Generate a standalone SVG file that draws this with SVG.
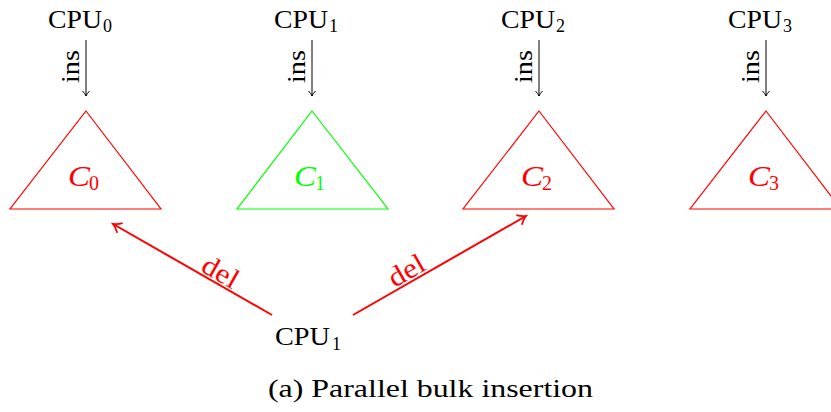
<svg xmlns="http://www.w3.org/2000/svg" width="831" height="412" viewBox="0 0 831 412">
<style>
.t{font-family:"Liberation Serif","Times New Roman",serif;fill:#000}
.cpu{font-size:26px}
.sub{font-size:18px}
.ins{font-size:26px}
.tri{fill:none;stroke-width:1.2}
.red{stroke:#ff0000}
.grn{stroke:#00ff00}
.cl{font-family:"Liberation Serif","Times New Roman",serif;font-style:italic;font-size:30px}
.cs{font-family:"Liberation Serif","Times New Roman",serif;font-size:20px}
.ia{stroke:#000;stroke-width:1;fill:none}
.da{stroke:#ff0000;stroke-width:2;fill:none}
.del{font-family:"Liberation Serif","Times New Roman",serif;font-size:28px;fill:#ff0000}
</style>
<defs>
<marker id="ah" markerWidth="10" markerHeight="10" refX="7" refY="5" orient="auto" markerUnits="userSpaceOnUse">
<path d="M2,1.5 Q4.5,4 7,5 Q4.5,6 2,8.5" fill="none" stroke="#000" stroke-width="1"/>
</marker>
<marker id="rh" markerWidth="16" markerHeight="16" refX="11" refY="8" orient="auto" markerUnits="userSpaceOnUse">
<path d="M3,2.5 Q7,6.5 11,8 Q7,9.5 3,13.5" fill="none" stroke="#ff0000" stroke-width="1.8"/>
</marker>
</defs>
<rect width="831" height="412" fill="#fff"/>

<g id="cpu0">
<text class="t cpu" x="48" y="28" textLength="54" lengthAdjust="spacingAndGlyphs">CPU</text>
<text class="t sub" x="103" y="32">0</text>
</g>
<g id="cpu1">
<text class="t cpu" x="274" y="28" textLength="54" lengthAdjust="spacingAndGlyphs">CPU</text>
<text class="t sub" x="329" y="32">1</text>
</g>
<g id="cpu2">
<text class="t cpu" x="501" y="28" textLength="54" lengthAdjust="spacingAndGlyphs">CPU</text>
<text class="t sub" x="556" y="32">2</text>
</g>
<g id="cpu3">
<text class="t cpu" x="728" y="28" textLength="54" lengthAdjust="spacingAndGlyphs">CPU</text>
<text class="t sub" x="783" y="32">3</text>
</g>

<g id="c0">
<polygon class="tri red" points="86,111 161,209 10,209"/>
<text class="cl" x="68" y="186" fill="#ff0000" textLength="22" lengthAdjust="spacingAndGlyphs">C</text>
<text class="cs" x="89" y="190" fill="#ff0000">0</text>
</g>
<g id="c1">
<polygon class="tri grn" points="312,111 388,209 237,209"/>
<text class="cl" x="294" y="186" fill="#00ff00" textLength="22" lengthAdjust="spacingAndGlyphs">C</text>
<text class="cs" x="315" y="190" fill="#00ff00">1</text>
</g>
<g id="c2">
<polygon class="tri red" points="539,111 614,209 463,209"/>
<text class="cl" x="521" y="186" fill="#ff0000" textLength="22" lengthAdjust="spacingAndGlyphs">C</text>
<text class="cs" x="542" y="190" fill="#ff0000">2</text>
</g>
<g id="c3">
<polygon class="tri red" points="766,111 841,209 690,209"/>
<text class="cl" x="748" y="186" fill="#ff0000" textLength="22" lengthAdjust="spacingAndGlyphs">C</text>
<text class="cs" x="769" y="190" fill="#ff0000">3</text>
</g>

<g id="cpu1b">
<text class="t cpu" x="275" y="345" textLength="55" lengthAdjust="spacingAndGlyphs">CPU</text>
<text class="t sub" x="332" y="350">1</text>
</g>

<g id="connectors">
<line class="ia" x1="86" y1="40" x2="86" y2="96" marker-end="url(#ah)"/>
<line class="ia" x1="312" y1="40" x2="312" y2="96" marker-end="url(#ah)"/>
<line class="ia" x1="539" y1="40" x2="539" y2="96" marker-end="url(#ah)"/>
<line class="ia" x1="766" y1="40" x2="766" y2="96" marker-end="url(#ah)"/>
<text class="t ins" transform="translate(79,66.5) rotate(-90)" text-anchor="middle" textLength="33" lengthAdjust="spacingAndGlyphs">ins</text>
<text class="t ins" transform="translate(305,66.5) rotate(-90)" text-anchor="middle" textLength="33" lengthAdjust="spacingAndGlyphs">ins</text>
<text class="t ins" transform="translate(532,66.5) rotate(-90)" text-anchor="middle" textLength="33" lengthAdjust="spacingAndGlyphs">ins</text>
<text class="t ins" transform="translate(759,66.5) rotate(-90)" text-anchor="middle" textLength="33" lengthAdjust="spacingAndGlyphs">ins</text>
<line class="da" x1="272" y1="315" x2="113" y2="224" marker-end="url(#rh)"/>
<line class="da" x1="353" y1="315" x2="526" y2="216" marker-end="url(#rh)"/>
<text class="del" transform="translate(216,280) rotate(29.8)" text-anchor="middle" textLength="38" lengthAdjust="spacingAndGlyphs">del</text>
<text class="del" transform="translate(411,278.5) rotate(-29.8)" text-anchor="middle" textLength="38" lengthAdjust="spacingAndGlyphs">del</text>
</g>

<text id="caption" class="t" x="268" y="397" font-size="25" textLength="325" lengthAdjust="spacingAndGlyphs">(a) Parallel bulk insertion</text>
</svg>
